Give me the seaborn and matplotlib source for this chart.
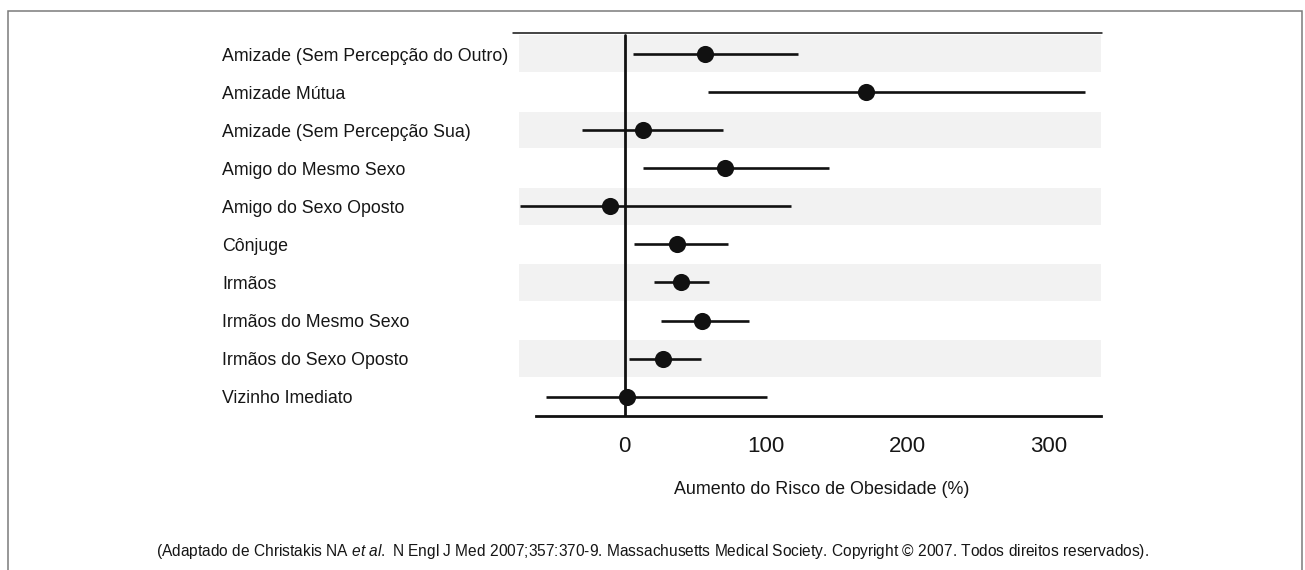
import numpy as np
import pandas as pd
import matplotlib
matplotlib.use("Agg")
import matplotlib.pyplot as plt
from matplotlib.patches import Rectangle
from matplotlib.lines import Line2D
import seaborn as sns

# ---------------- data ----------------
categories = [
    "Amizade (Sem Percepção do Outro)",
    "Amizade Mútua",
    "Amizade (Sem Percepção Sua)",
    "Amigo do Mesmo Sexo",
    "Amigo do Sexo Oposto",
    "Cônjuge",
    "Irmãos",
    "Irmãos do Mesmo Sexo",
    "Irmãos do Sexo Oposto",
    "Vizinho Imediato",
]
estimate = [57, 171, 13, 71, -10, 37, 40, 55, 27, 2]
ci_low = [6, 59, -30, 13, -74, 7, 21, 26, 3, -56]
ci_high = [123, 326, 70, 145, 118, 73, 60, 88, 54, 101]
x_ticks = [0, 100, 200, 300]
x_label = "Aumento do Risco de Obesidade (%)"
footnote = (r"(Adaptado de Christakis NA $\it{et\ al.}$ N Engl J Med 2007;357:370-9. "
            "Massachusetts Medical Society. Copyright © 2007. Todos direitos reservados).")

df = pd.DataFrame({"cat": categories, "est": estimate, "lo": ci_low, "hi": ci_high})

# ---------------- style ----------------
sns.set_style("white")
FAMILY = "Liberation Sans"
plt.rcParams["font.family"] = [FAMILY, "DejaVu Sans"]
plt.rcParams["mathtext.fontset"] = "custom"
plt.rcParams["mathtext.rm"] = FAMILY
plt.rcParams["mathtext.it"] = FAMILY + ":italic"

TXT = "#161616"
INK = "#111111"

fig = plt.figure(figsize=(13.05, 5.70), dpi=100)
fig.patch.set_facecolor("white")
ax = fig.add_axes([519 / 1305, 1 - 415.7 / 570, 582 / 1305, 382.7 / 570])
ax.set_facecolor("white")

n = len(categories)
pos = np.arange(n)

# alternating bands
for i in pos[::2]:
    ax.axhspan(i - 0.49, i + 0.48, color="#f2f2f2", lw=0, zorder=0)

# confidence intervals
ax.hlines(pos, df["lo"], df["hi"], color=INK, lw=1.9, zorder=2)

# point estimates
sns.pointplot(data=df, x="est", y="cat", order=categories, orient="h",
              errorbar=None, color=INK, marker="o", markersize=10.3,
              linestyle="none", ax=ax, zorder=4)

# zero reference line
ax.axvline(0, ymin=0, ymax=(415.7 - 35) / 382.7, color=INK, lw=2.0, zorder=3)

ax.set_xlim(-74.8, 337.4)
ax.set_ylim(9.498, -0.5515)

ax.set_xlabel("")
ax.set_ylabel("")
ax.set_xticks(x_ticks)
ax.set_xticklabels([str(v) for v in x_ticks])
ax.tick_params(axis="x", direction="out", length=8.6, width=2.0, color=INK,
               pad=6, labelsize=16, labelcolor=TXT)
ax.set_yticks(pos)
ax.set_yticklabels(categories)
ax.tick_params(axis="y", length=0, pad=213.8, labelsize=12.8, labelcolor=TXT)
for lbl in ax.get_yticklabels():
    lbl.set_ha("left")

for side in ["left", "top", "right"]:
    ax.spines[side].set_visible(False)
ax.spines["bottom"].set_linewidth(2.0)
ax.spines["bottom"].set_color(INK)
ax.spines["bottom"].set_bounds(-62.5, 337.4)
ax.grid(False)

# thin top rule
fig.add_artist(Line2D([513 / 1305, 1102 / 1305], [1 - 33 / 570, 1 - 33 / 570],
                      transform=fig.transFigure, color=INK, lw=1.1))

# x-axis title
fig.text(821.7 / 1305, 1 - 494 / 570, x_label, ha="center", va="baseline",
         fontsize=12.9, color=TXT)

# footnote
fig.text(0.5, 1 - 556 / 570, footnote, ha="center", va="baseline",
         fontsize=11.2, color=TXT)

# outer frame (bottom edge lies outside the image)
fig.patches.append(Rectangle((8 / 1305, -0.2), (1301.7 - 8) / 1305, 0.2 + (1 - 11 / 570),
                             transform=fig.transFigure, fill=False,
                             edgecolor="#7a7a7a", lw=1.1, clip_on=False))

fig.savefig("out.png", dpi=100, facecolor="white")
